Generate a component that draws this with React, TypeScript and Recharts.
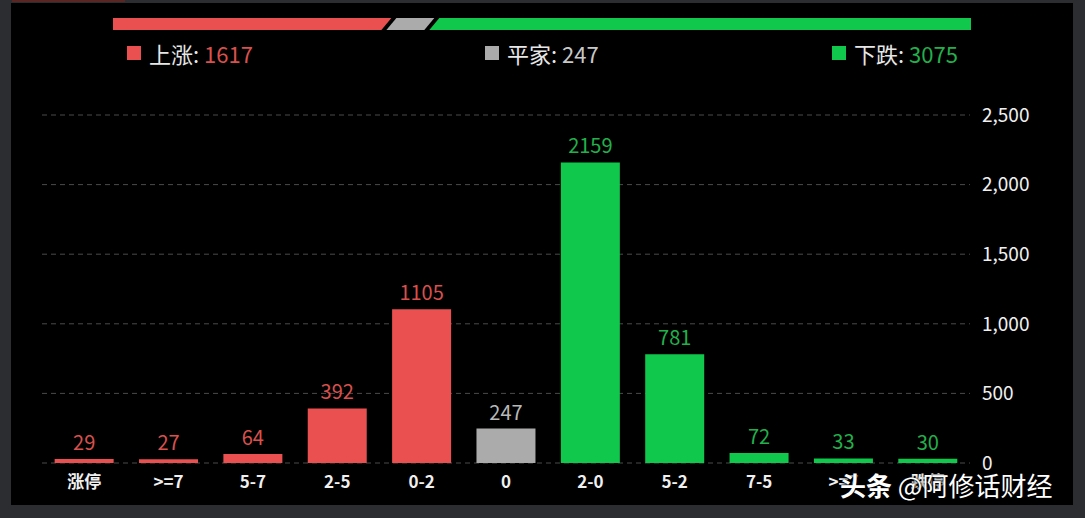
import React from "react";
import { BarChart, Bar, XAxis, YAxis, CartesianGrid, Cell, LabelList } from "recharts";

// distribution buckets
const categories = ["涨停", ">=7", "5-7", "2-5", "0-2", "0", "2-0", "5-2", "7-5", ">=7", "跌停"];
const counts = [29, 27, 64, 392, 1105, 247, 2159, 781, 72, 33, 30];
const groups = ["up", "up", "up", "up", "up", "flat", "down", "down", "down", "down", "down"];
const yTicks = [0, 500, 1000, 1500, 2000, 2500];

// summary
const summaryNames = ["上涨", "平家", "下跌"];
const summaryKeys = ["up", "flat", "down"];
const summaryValues = [1617, 247, 3075];

const BAR_COLOR: Record<string, string> = { up: "#ea5050", flat: "#ababab", down: "#10c94c" };
const TEXT_COLOR: Record<string, string> = { up: "#d9504d", flat: "#b8b8b8", down: "#22b04b" };
const FONT = '"Noto Sans CJK SC", "Noto Sans", sans-serif';

const data = categories.map((name, i) => ({ name, value: counts[i], group: groups[i] }));
const summaryRow = [
  Object.fromEntries(summaryKeys.map((k, i) => [k, summaryValues[i]])) as Record<string, number>,
];
const total = summaryValues.reduce((a, b) => a + b, 0);

const ValueLabel = (props: any) => {
  const { x, y, width, value, index } = props;
  return (
    <text
      x={x + width / 2}
      y={y - 9}
      textAnchor="middle"
      fill={TEXT_COLOR[groups[index]]}
      fontSize={20}
      fontFamily={FONT}
    >
      {value}
    </text>
  );
};

// slanted segments of the top ratio strip
const makeSegment = (pos: "first" | "mid" | "last") => (props: any) => {
  const { x, y, width, height, fill } = props;
  const s = 10;
  const g = 2.5;
  let pts: number[][];
  if (pos === "first") {
    pts = [[x, y], [x + width - g, y], [x + width - g - s, y + height], [x, y + height]];
  } else if (pos === "mid") {
    pts = [[x + g, y], [x + width - g, y], [x + width - g - s, y + height], [x + g - s, y + height]];
  } else {
    pts = [[x + g, y], [x + width, y], [x + width, y + height], [x + g - s, y + height]];
  }
  return <polygon points={pts.map((p) => p.join(",")).join(" ")} fill={fill} />;
};

const legendX = [127, 485, 832];

export default function App() {
  return (
    <div
      style={{
        position: "fixed",
        left: 0,
        top: 0,
        width: 1085,
        height: 518,
        background: "#2b2d30",
        fontFamily: FONT,
        overflow: "hidden",
      }}
    >
      <div style={{ position: "absolute", left: 12, top: 0, width: 113, height: 2, background: "#5a2624" }} />
      <div style={{ position: "absolute", left: 11, top: 3, width: 1062, height: 502, background: "#000" }} />

      {/* ratio strip */}
      <div style={{ position: "absolute", left: 113, top: 18 }}>
        <BarChart
          width={858}
          height={12}
          data={summaryRow}
          layout="vertical"
          margin={{ top: 0, right: 0, bottom: 0, left: 0 }}
          barCategoryGap={0}
        >
          <XAxis type="number" hide domain={[0, total]} />
          <YAxis type="category" hide />
          {summaryKeys.map((k, i) => (
            <Bar
              key={k}
              dataKey={k}
              stackId="s"
              fill={BAR_COLOR[k]}
              isAnimationActive={false}
              shape={makeSegment(i === 0 ? "first" : i === summaryKeys.length - 1 ? "last" : "mid")}
            />
          ))}
        </BarChart>
      </div>

      {/* legend */}
      {summaryKeys.map((k, i) => (
        <div
          key={k}
          style={{
            position: "absolute",
            left: legendX[i],
            top: 38,
            display: "flex",
            alignItems: "center",
            fontSize: 22,
            lineHeight: "30px",
            whiteSpace: "nowrap",
          }}
        >
          <span style={{ width: 14, height: 14, background: BAR_COLOR[k], marginRight: 8, display: "inline-block" }} />
          <span style={{ color: "#e6e6e6" }}>{summaryNames[i]}:&nbsp;</span>
          <span style={{ color: k === "flat" ? "#c8c8c8" : TEXT_COLOR[k] }}>{summaryValues[i]}</span>
        </div>
      ))}

      {/* main chart */}
      <div style={{ position: "absolute", left: 0, top: 0 }}>
        <BarChart
          width={1085}
          height={518}
          data={data}
          margin={{ top: 115, right: 35, bottom: 25, left: 42 }}
          barCategoryGap="15%"
        >
          <CartesianGrid vertical={false} stroke="#4a4a4a" strokeDasharray="5 4" />
          <XAxis
            dataKey="name"
            axisLine={false}
            tickLine={false}
            interval={0}
            height={30}
            tickSize={0}
            tickMargin={13}
            tick={{ fill: "#f0f0f0", fontSize: 17, fontWeight: 600, fontFamily: FONT }}
          />
          <YAxis
            orientation="right"
            domain={[0, 2500]}
            ticks={yTicks}
            axisLine={false}
            tickLine={false}
            tickSize={0}
            tickMargin={12}
            width={80}
            tickFormatter={(v: number) => v.toLocaleString("en-US")}
            tick={{ fill: "#f0f0f0", fontSize: 19, fontFamily: FONT, textAnchor: "start" }}
          />
          <Bar dataKey="value" isAnimationActive={false}>
            {data.map((d, i) => (
              <Cell key={i} fill={BAR_COLOR[d.group]} />
            ))}
            <LabelList dataKey="value" content={ValueLabel} />
          </Bar>
        </BarChart>
      </div>

      {/* watermark */}
      <div
        style={{
          position: "absolute",
          left: 840,
          top: 469,
          color: "#fff",
          fontSize: 26,
          lineHeight: "32px",
          whiteSpace: "nowrap",
          textShadow: "0 0 3px #000, 1px 1px 2px #000",
        }}
      >
        <span style={{ fontWeight: 700 }}>头条</span> @阿修话财经
      </div>
    </div>
  );
}
